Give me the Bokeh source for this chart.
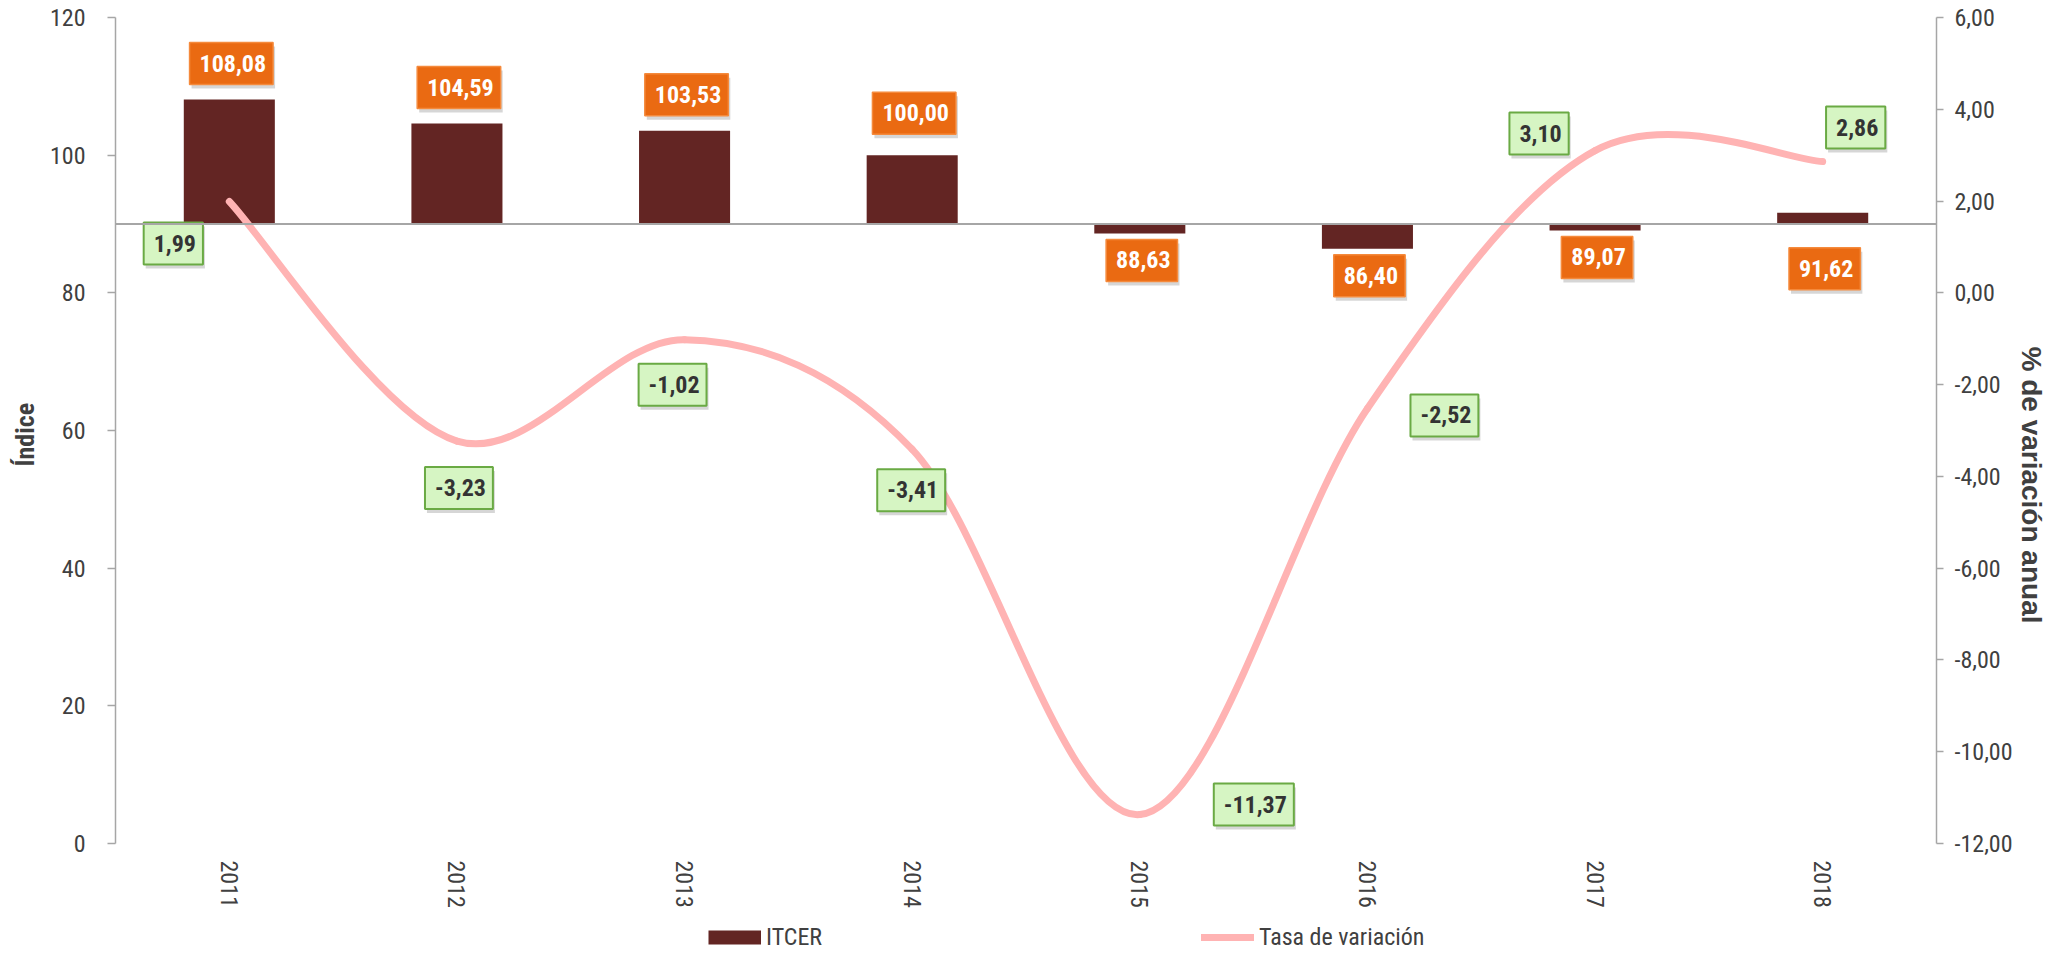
from bokeh.plotting import figure
from bokeh.models import (Range1d, LinearAxis, FixedTicker, Span, Legend,
                          LegendItem, ColumnDataSource, Title)
from bokeh.core.properties import value
from bokeh.embed import file_html
from bokeh.resources import INLINE

# ---------------- data ----------------
years = ["2011", "2012", "2013", "2014", "2015", "2016", "2017", "2018"]
itcer = [108.08, 104.59, 103.53, 100.00, 88.63, 86.40, 89.07, 91.62]
tasa = [1.99, -3.23, -1.02, -3.41, -11.37, -2.52, 3.10, 2.86]
left_ticks = [0, 20, 40, 60, 80, 100, 120]
right_ticks = [-12, -10, -8, -6, -4, -2, 0, 2, 4, 6]
base_value = 90

# ---------------- layout ----------------
bar_label_dy = [-36, -36, -36, -42, 27, 27, 27, 56]
rate_label_dx = [-58, 0, -14, -3, 112, 75, -58, 31]
rate_label_dy = [42, 47, 45, 41, -10, 7, -17, -34]

NARROW = "Liberation Sans Narrow, Roboto Condensed, Liberation Sans"
TITLE = "Liberation Sans"
TXT = "#404040"
AXIS = "#a6a6a6"
BAR = "#632523"
LINE = "#ffb3b3"

W, H = 2049, 952
TOP = 17            # frame top inside the canvas
PLOT_H = 826        # pixel height of the 0..120 span
EXTRA = H - TOP - PLOT_H   # area below the zero line (year labels + legend)
L_LO, L_HI = 0, 120
R_LO, R_HI = -12, 6
l_ext = (L_HI - L_LO) * EXTRA / PLOT_H
r_ext = (R_HI - R_LO) * EXTRA / PLOT_H


def fmt(v):
    return f"{v:.2f}".replace(".", ",")


xs = [i + 0.5 for i in range(len(years))]

p = figure(width=W, height=H, x_range=Range1d(0, len(years)),
           y_range=Range1d(L_LO - l_ext, L_HI), output_backend="svg",
           toolbar_location=None, min_border_left=110, min_border_right=113,
           min_border_top=TOP, min_border_bottom=0,
           background_fill_color="white", border_fill_color="white",
           outline_line_color=None)
p.extra_y_ranges = {"right": Range1d(R_LO - r_ext, R_HI)}
p.grid.visible = False

# left axis
ly = p.yaxis[0]
ly.ticker = FixedTicker(ticks=left_ticks)
ly.bounds = (L_LO, L_HI)
ly.major_label_text_font = NARROW
ly.major_label_text_font_size = "24px"
ly.major_label_text_color = TXT
ly.major_label_standoff = 22
ly.axis_line_color = AXIS
ly.axis_line_width = 1.5
ly.major_tick_line_color = AXIS
ly.major_tick_line_width = 1.5
ly.major_tick_out = 8
ly.major_tick_in = 0
ly.minor_tick_line_color = None

# left title, placed along the 0..120 span
p.add_layout(Title(text="Índice", align="left", offset=486, standoff=14,
                   text_font=NARROW, text_font_size="26px",
                   text_font_style="bold", text_color=TXT), "left")

# bottom axis (categories) drawn at the zero line
bx = p.xaxis[0]
bx.fixed_location = L_LO
bx.ticker = FixedTicker(ticks=xs)
bx.major_label_overrides = {x: y for x, y in zip(xs, years)}
bx.major_label_orientation = "vertical"
bx.major_label_text_font = NARROW
bx.major_label_text_font_size = "24px"
bx.major_label_text_color = TXT
bx.major_label_standoff = 17
bx.axis_line_color = None
bx.major_tick_line_color = None
bx.minor_tick_line_color = None
bx.major_tick_out = 0

# right axis
ry = LinearAxis(y_range_name="right", ticker=FixedTicker(ticks=right_ticks),
                major_label_overrides={t: fmt(t) for t in right_ticks},
                bounds=(R_LO, R_HI))
ry.axis_label = "% de variación anual"
ry.axis_label_text_font = TITLE
ry.axis_label_text_font_style = "bold"
ry.axis_label_text_font_size = "28px"
ry.axis_label_text_color = TXT
ry.axis_label_standoff = 0
ry.major_label_text_font = NARROW
ry.major_label_text_font_size = "24px"
ry.major_label_text_color = TXT
ry.major_label_standoff = 11
ry.axis_line_color = AXIS
ry.axis_line_width = 1.5
ry.major_tick_line_color = AXIS
ry.major_tick_line_width = 1.5
ry.major_tick_out = 7
ry.major_tick_in = 0
ry.minor_tick_line_color = None
p.add_layout(ry, "right")

# bars from the 90 baseline
bars = p.vbar(x=xs, top=itcer, bottom=base_value, width=0.4, fill_color=BAR,
              line_color=None)
p.add_layout(Span(location=base_value, dimension="width", line_color=AXIS,
                  line_width=2))

# smoothed rate line (bezier segments through the data points)
n = len(tasa)
x0, y0, x1, y1, cx0, cy0, cx1, cy1 = ([] for _ in range(8))
for i in range(n - 1):
    ip = max(i - 1, 0)
    inn = min(i + 2, n - 1)
    x0.append(xs[i]); y0.append(tasa[i])
    x1.append(xs[i + 1]); y1.append(tasa[i + 1])
    cx0.append(xs[i] + (xs[i + 1] - xs[ip]) / 6)
    cy0.append(tasa[i] + (tasa[i + 1] - tasa[ip]) / 6)
    cx1.append(xs[i + 1] - (xs[inn] - xs[i]) / 6)
    cy1.append(tasa[i + 1] - (tasa[inn] - tasa[i]) / 6)
line_r = p.bezier(x0=x0, y0=y0, x1=x1, y1=y1, cx0=cx0, cy0=cy0, cx1=cx1,
                  cy1=cy1, line_color=LINE, line_width=7, line_cap="round",
                  y_range_name="right")

# bar value boxes (orange)
src_o = ColumnDataSource(dict(
    x=xs, y=itcer, text=[fmt(v) for v in itcer],
    dy=bar_label_dy, dys=[d + 4 for d in bar_label_dy]))
box_pad = dict(left=10, right=7, top=12, bottom=13)
common = dict(text_align="center", text_baseline="middle",
              text_font=value(NARROW), text_font_style="bold",
              text_font_size=value("24px"), padding=box_pad)
p.text(x="x", y="y", text="text", source=src_o, x_offset=4, y_offset="dys",
       text_alpha=0, background_fill_color="black", background_fill_alpha=0.16,
       **common)
p.text(x="x", y="y", text="text", source=src_o, x_offset=2, y_offset="dy",
       text_color="white", background_fill_color="#ea6a12",
       border_line_color="#f58a3c", border_line_width=1.5, **common)

# rate value boxes (green)
src_g = ColumnDataSource(dict(
    x=xs, y=tasa, text=[fmt(v) for v in tasa],
    dx=[d + 2 for d in rate_label_dx], dy=rate_label_dy,
    dxs=[d + 4 for d in rate_label_dx], dys=[d + 4 for d in rate_label_dy]))
p.text(x="x", y="y", text="text", source=src_g, x_offset="dxs",
       y_offset="dys", text_alpha=0, background_fill_color="black",
       background_fill_alpha=0.16, y_range_name="right", **common)
p.text(x="x", y="y", text="text", source=src_g, x_offset="dx", y_offset="dy",
       text_color="#333333", background_fill_color="#d6f5c3",
       border_line_color="#6aaa44", border_line_width=2,
       y_range_name="right", **common)

# legend swatch for the bars: hidden thick line over the same bar data
bar_swatch = p.line(x=xs, y=itcer, line_color=BAR, line_width=14,
                    line_cap="butt", visible=False)
legend = Legend(items=[LegendItem(label="ITCER", renderers=[bar_swatch]),
                       LegendItem(label="Tasa de variación",
                                  renderers=[line_r])],
                location=(593, 1), orientation="horizontal", padding=0,
                margin=0, border_line_color=None, background_fill_alpha=0,
                inactive_fill_alpha=0,
                glyph_height=28, glyph_width=53, label_standoff=5,
                label_height=28, label_width=80, spacing=355,
                label_text_font=NARROW, label_text_font_size="24px",
                label_text_color=TXT)
p.add_layout(legend, "center")

open("out.html", "w").write(file_html(p, INLINE))
